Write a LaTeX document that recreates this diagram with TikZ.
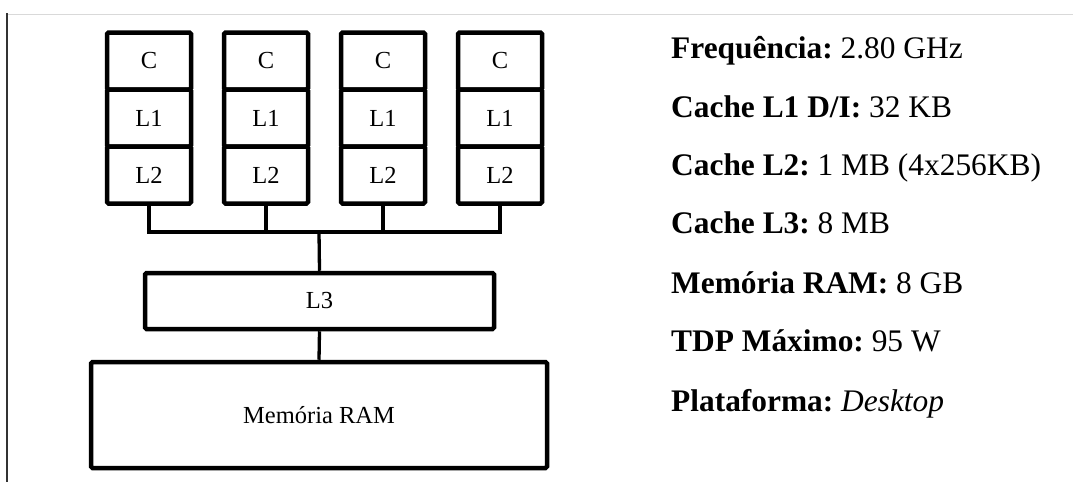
\documentclass[tikz,border=0pt]{standalone}
\usepackage{fontspec}
\setmainfont{Liberation Serif}
\usetikzlibrary{positioning}
\frenchspacing

\begin{document}
\begin{tikzpicture}[
  x=1pt, y=-1pt,
  cell/.style={draw, line width=4.5pt, rounded corners=1.5pt, minimum width=84pt, minimum height=57pt, inner sep=0pt, font=\fontsize{24.5}{26}\selectfont},
  ln/.style={line width=3.3pt},
  spec/.style={anchor=base west, inner sep=0pt, font=\fontsize{31.4}{34}\selectfont}
]
\useasboundingbox (0,0) rectangle (1073,482);
% frame lines
\draw[black!15, line width=1pt] (7,14) -- (1073,14);
\draw[black!80, line width=1.3pt] (7,13) -- (7,482);
% cores
\foreach \i/\x in {1/149,2/266,3/383,4/500}{
  \node[cell] (c\i) at (\x,61) {C};
  \node[cell] (l1c\i) at (\x,118) {L1};
  \node[cell] (l2c\i) at (\x,175) {L2};
}
\coordinate (bus) at (319,232);
\node[cell, minimum width=349pt, minimum height=56pt] (l3) at (319.5,301) {L3};
\node[cell, minimum width=456pt, minimum height=106pt] (ram) at (319,415) {Memória RAM};
\foreach \i in {1,...,4} \draw[ln] (l2c\i.south) |- (bus);
\draw[ln] (bus) -- (l3.north);
\draw[ln] (l3.south) -- (ram.north);
% specs
\node[spec] (freq) at (671,58) {\textbf{Frequência:} 2.80 GHz};
\node[spec] (cl1) at (671,117) {\textbf{Cache L1 D/I:} 32 KB};
\node[spec] (cl2) at (671,175) {\textbf{Cache L2:} 1 MB (4x256KB)};
\node[spec] (cl3) at (671,233) {\textbf{Cache L3:} 8 MB};
\node[spec] (mem) at (671,293) {\textbf{Memória RAM:} 8 GB};
\node[spec] (tdp) at (671,351) {\textbf{TDP Máximo:} 95 W};
\node[spec] (plat) at (671,411) {\textbf{Plataforma:} \textit{Desktop}};
\end{tikzpicture}
\end{document}
